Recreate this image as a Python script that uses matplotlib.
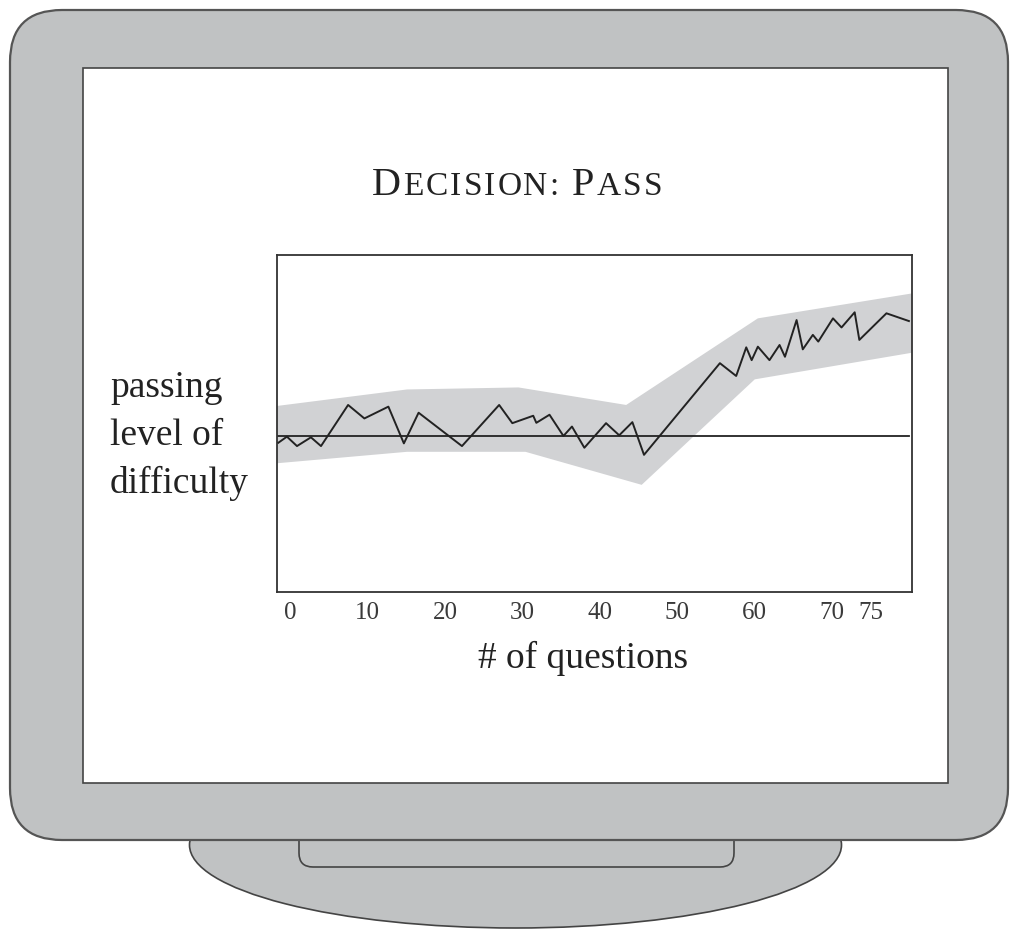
import matplotlib
matplotlib.use("Agg")
import matplotlib.pyplot as plt
from matplotlib.patches import FancyBboxPatch, Rectangle, Ellipse

# ---- data ----
question_no = [-1.5, -0.4, 0.9, 2.7, 4.0, 7.5, 9.6, 12.7, 14.7, 16.6, 22.2, 27.0,
               28.7, 31.4, 31.8, 33.5, 35.3, 36.4, 38.0, 40.8, 42.5, 44.2, 45.7,
               55.5, 57.6, 58.9, 59.6, 60.4, 61.9, 63.2, 63.9, 65.4, 66.2, 67.5,
               68.2, 70.1, 71.2, 72.9, 73.5, 77.0, 79.9]
difficulty = [44.3, 46.1, 43.3, 45.9, 43.3, 55.5, 51.5, 55.0, 44.1, 53.2, 43.3, 55.5,
              50.1, 52.3, 50.2, 52.6, 46.3, 49.1, 42.8, 50.1, 46.5, 50.4, 40.7,
              67.9, 64.1, 72.6, 68.8, 72.8, 68.8, 73.3, 69.8, 80.7, 72.0, 76.3,
              74.3, 81.2, 78.5, 83.0, 74.8, 82.7, 80.4]

band_top_x = [-1.7, 15.1, 29.5, 43.4, 60.4, 80.3]
band_top_y = [55.2, 60.1, 60.7, 55.5, 81.2, 88.6]
band_bot_x = [-1.7, 15.1, 30.4, 45.4, 60.0, 80.3]
band_bot_y = [38.2, 41.6, 41.6, 31.8, 63.1, 71.0]

pass_level = 46.3
tick_values = [0, 10, 20, 30, 40, 50, 60, 70, 75]

SERIF = ["Liberation Serif", "DejaVu Serif"]
GRAY = "#c0c2c3"
BAND = "#d1d2d4"
INK = "#222222"

W, H = 1011, 930
fig = plt.figure(figsize=(W / 100, H / 100), dpi=100)

# ---- monitor drawing (pixel coordinates) ----
bg = fig.add_axes([0, 0, 1, 1])
bg.set_xlim(0, W)
bg.set_ylim(H, 0)
bg.axis("off")

bg.add_patch(Ellipse((515.5, 845), 652, 166, fc=GRAY, ec="#444444", lw=1.2, zorder=1))
bg.add_patch(FancyBboxPatch((299, 820), 435, 47, boxstyle="round,pad=0,rounding_size=14",
                            fc=GRAY, ec="#444444", lw=1.2, zorder=2))
bg.add_patch(FancyBboxPatch((10, 10), 998, 830, boxstyle="round,pad=0,rounding_size=52",
                            fc=GRAY, ec="#555555", lw=1.6, zorder=3))
bg.add_patch(Rectangle((83, 68), 865, 715, fc="white", ec="#444444", lw=1.2, zorder=4))


def small_caps(ax, xc, y, parts, big, small, track=3.0):
    """Lay out text letter by letter: big capitals, small capitals, extra tracking."""
    renderer = fig.canvas.get_renderer()
    texts, x = [], 0.0
    for s, is_big in parts:
        for ch in s:
            t = ax.text(x, y, ch, fontsize=big if is_big else small, family=SERIF,
                        ha="left", va="baseline", color=INK, zorder=5)
            if ch == " ":
                x += 0.45 * small
            else:
                x += t.get_window_extent(renderer).width + track
            texts.append(t)
    x -= track
    off = xc - x / 2
    for t in texts:
        px, py = t.get_position()
        t.set_position((px + off, py))


small_caps(bg, 517, 195, [("D", True), ("ECISION: ", False), ("P", True), ("ASS", False)],
           29, 24, track=2.1)

bg.text(110, 436, "passing\nlevel of\ndifficulty", fontsize=27, family=SERIF,
        ha="left", va="center", linespacing=1.5, color=INK, zorder=5)
bg.text(583, 658, "# of questions", fontsize=27, family=SERIF,
        ha="center", va="center", color=INK, zorder=5)

# ---- the chart ----
ax = fig.add_axes([277 / W, (H - 592) / H, 635 / W, 337 / H])
ax.set_xlim(-1.68, 80.3)
ax.set_ylim(0, 100)
ax.set_facecolor("white")

ax.fill(band_top_x + band_bot_x[::-1], band_top_y + band_bot_y[::-1],
        color=BAND, lw=0, zorder=1)
ax.plot([-1.68, 79.9], [pass_level, pass_level], color=INK, lw=1.3, zorder=2)
ax.plot(question_no, difficulty, color=INK, lw=1.4, zorder=3)

for s in ax.spines.values():
    s.set_color("#333333")
    s.set_linewidth(1.3)
ax.set_yticks([])
ax.set_xticks(tick_values)
ax.set_xticklabels([str(v) for v in tick_values], family=SERIF, fontsize=18, color="#3a3a3a")
ax.tick_params(axis="x", length=0, pad=7)

fig.savefig("out.png", dpi=100)
